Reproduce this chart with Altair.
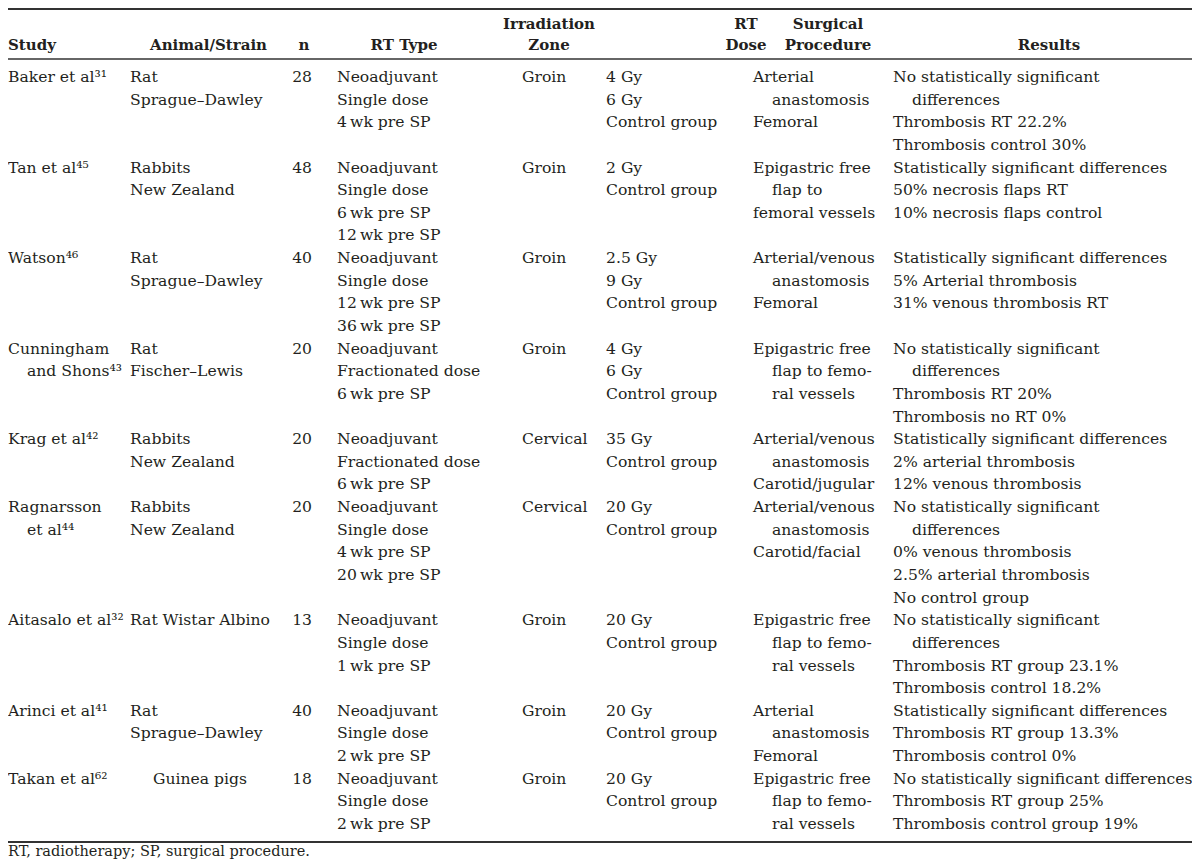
import altair as alt
import pandas as pd

FONT = "DejaVu Serif"
INK = "#231f20"

# ---- table content (one list per column, one inner list per study row) ----
# "›" marks an indented continuation line, "^" a centred cell
col_keys = ["study", "animal", "n", "rttype", "zone", "dose", "surg", "results"]

study = [["Baker et al³¹"], ["Tan et al⁴⁵"], ["Watson⁴⁶"], ["Cunningham", "›and Shons⁴³"],
         ["Krag et al⁴²"], ["Ragnarsson", "›et al⁴⁴"], ["Aitasalo et al³²"],
         ["Arinci et al⁴¹"], ["Takan et al⁶²"]]
animal = [["Rat", "Sprague–Dawley"], ["Rabbits", "New Zealand"], ["Rat", "Sprague–Dawley"],
          ["Rat", "Fischer–Lewis"], ["Rabbits", "New Zealand"], ["Rabbits", "New Zealand"],
          ["Rat Wistar Albino"], ["Rat", "Sprague–Dawley"], ["^Guinea pigs"]]
n_vals = [["28"], ["48"], ["40"], ["20"], ["20"], ["20"], ["13"], ["40"], ["18"]]
rttype = [["Neoadjuvant", "Single dose", "4\u2009wk pre SP"],
          ["Neoadjuvant", "Single dose", "6\u2009wk pre SP", "12\u2009wk pre SP"],
          ["Neoadjuvant", "Single dose", "12\u2009wk pre SP", "36\u2009wk pre SP"],
          ["Neoadjuvant", "Fractionated dose", "6\u2009wk pre SP"],
          ["Neoadjuvant", "Fractionated dose", "6\u2009wk pre SP"],
          ["Neoadjuvant", "Single dose", "4\u2009wk pre SP", "20\u2009wk pre SP"],
          ["Neoadjuvant", "Single dose", "1\u2009wk pre SP"],
          ["Neoadjuvant", "Single dose", "2\u2009wk pre SP"],
          ["Neoadjuvant", "Single dose", "2\u2009wk pre SP"]]
zone = [["Groin"], ["Groin"], ["Groin"], ["Groin"], ["Cervical"], ["Cervical"],
        ["Groin"], ["Groin"], ["Groin"]]
dose = [["4 Gy", "6 Gy", "Control group"], ["2 Gy", "Control group"],
        ["2.5 Gy", "9 Gy", "Control group"], ["4 Gy", "6 Gy", "Control group"],
        ["35 Gy", "Control group"], ["20 Gy", "Control group"], ["20 Gy", "Control group"],
        ["20 Gy", "Control group"], ["20 Gy", "Control group"]]
surg = [["Arterial", "›anastomosis", "Femoral"],
        ["Epigastric free", "›flap to", "femoral vessels"],
        ["Arterial/venous", "›anastomosis", "Femoral"],
        ["Epigastric free", "›flap to femo-", "›ral vessels"],
        ["Arterial/venous", "›anastomosis", "Carotid/jugular"],
        ["Arterial/venous", "›anastomosis", "Carotid/facial"],
        ["Epigastric free", "›flap to femo-", "›ral vessels"],
        ["Arterial", "›anastomosis", "Femoral"],
        ["Epigastric free", "›flap to femo-", "›ral vessels"]]
results = [["No statistically significant", "›differences", "Thrombosis RT 22.2%", "Thrombosis control 30%"],
           ["Statistically significant differences", "50% necrosis flaps RT", "10% necrosis flaps control"],
           ["Statistically significant differences", "5% Arterial thrombosis", "31% venous thrombosis RT"],
           ["No statistically significant", "›differences", "Thrombosis RT 20%", "Thrombosis no RT 0%"],
           ["Statistically significant differences", "2% arterial thrombosis", "12% venous thrombosis"],
           ["No statistically significant", "›differences", "0% venous thrombosis",
            "2.5% arterial thrombosis", "No control group"],
           ["No statistically significant", "›differences", "Thrombosis RT group 23.1%",
            "Thrombosis control 18.2%"],
           ["Statistically significant differences", "Thrombosis RT group 13.3%", "Thrombosis control 0%"],
           ["No statistically significant differences", "Thrombosis RT group 25%",
            "Thrombosis control group 19%"]]

header_lines = {
    "study": ["", "Study"], "animal": ["", "Animal/Strain"], "n": ["", "n"],
    "rttype": ["", "RT Type"], "zone": ["Irradiation", "Zone"], "dose": ["RT", "Dose"],
    "surg": ["Surgical", "Procedure"], "results": ["", "Results"],
}
footnote = "RT, radiotherapy; SP, surgical procedure."

# ---- build long table of cells ----
columns = [study, animal, n_vals, rttype, zone, dose, surg, results]
row_heights = [max(len(c[r]) for c in columns) for r in range(len(study))]
rows = []
start = 0
for r, h in enumerate(row_heights):
    for ci, col in enumerate(columns):
        for k, t in enumerate(col[r]):
            kind = "l"
            if t.startswith("›"):
                kind, t = "i", t[1:]
            elif t.startswith("^"):
                kind, t = "c", t[1:]
            if col_keys[ci] == "n":
                kind = "r"
            rows.append({"ci": ci, "line": start + k, "text": t, "kind": kind})
    start += h
cells = pd.DataFrame(rows)
n_lines = start

W, H = 1184, 852
xscale = alt.Scale(domain=list(range(8)), range=[0, 122, 304, 329, 514, 598, 745, 885],
                   zero=False, nice=False)
yscale = alt.Scale(domain=[0, n_lines - 1], range=[69, 816], zero=False, nice=False)

base = alt.Chart(cells).encode(
    x=alt.X("ci:Q", scale=xscale, axis=None),
    y=alt.Y("line:Q", scale=yscale, axis=None),
    text="text:N",
)
txt = dict(font=FONT, fontSize=15.6, color=INK, baseline="middle")
layers = [
    base.transform_filter(alt.datum.kind == "l").mark_text(align="left", **txt),
    base.transform_filter(alt.datum.kind == "i").mark_text(align="left", dx=19, **txt),
    base.transform_filter(alt.datum.kind == "c").mark_text(align="center", dx=70, **txt),
    base.transform_filter(alt.datum.kind == "r").mark_text(align="right", **txt),
]

# header labels
hpos = {"study": (0, "left"), "animal": (259, "right"), "n": (296, "center"),
        "rttype": (396, "center"), "zone": (541, "center"), "dose": (738, "center"),
        "surg": (820, "center"), "results": (1041, "center")}
hy = [16, 37]
one = pd.DataFrame({"a": [0]})
for key, lines in header_lines.items():
    hx, al = hpos[key]
    for li, t in enumerate(lines):
        if not t:
            continue
        layers.append(
            alt.Chart(one).mark_text(align=al, baseline="middle", font=FONT, fontSize=15,
                                     fontWeight="bold", color=INK, text=t)
            .encode(x=alt.value(hx), y=alt.value(hy[li]))
        )

# horizontal rules
for ry, sw in [(1, 2.2), (51, 1.4), (834, 2.0)]:
    layers.append(
        alt.Chart(one).mark_rule(color="#333333", strokeWidth=sw)
        .encode(x=alt.value(0), x2=alt.value(W), y=alt.value(ry))
    )

layers.append(
    alt.Chart(one).mark_text(align="left", baseline="middle", font=FONT, fontSize=14.5,
                             color=INK, text=footnote)
    .encode(x=alt.value(0), y=alt.value(844))
)

chart = alt.layer(*layers).properties(
    width=W, height=H, padding=0, autosize=alt.AutoSizeParams(type="none")
).configure_view(stroke=None)

chart.save("out.html", embed_options={"renderer": "svg", "actions": False})
